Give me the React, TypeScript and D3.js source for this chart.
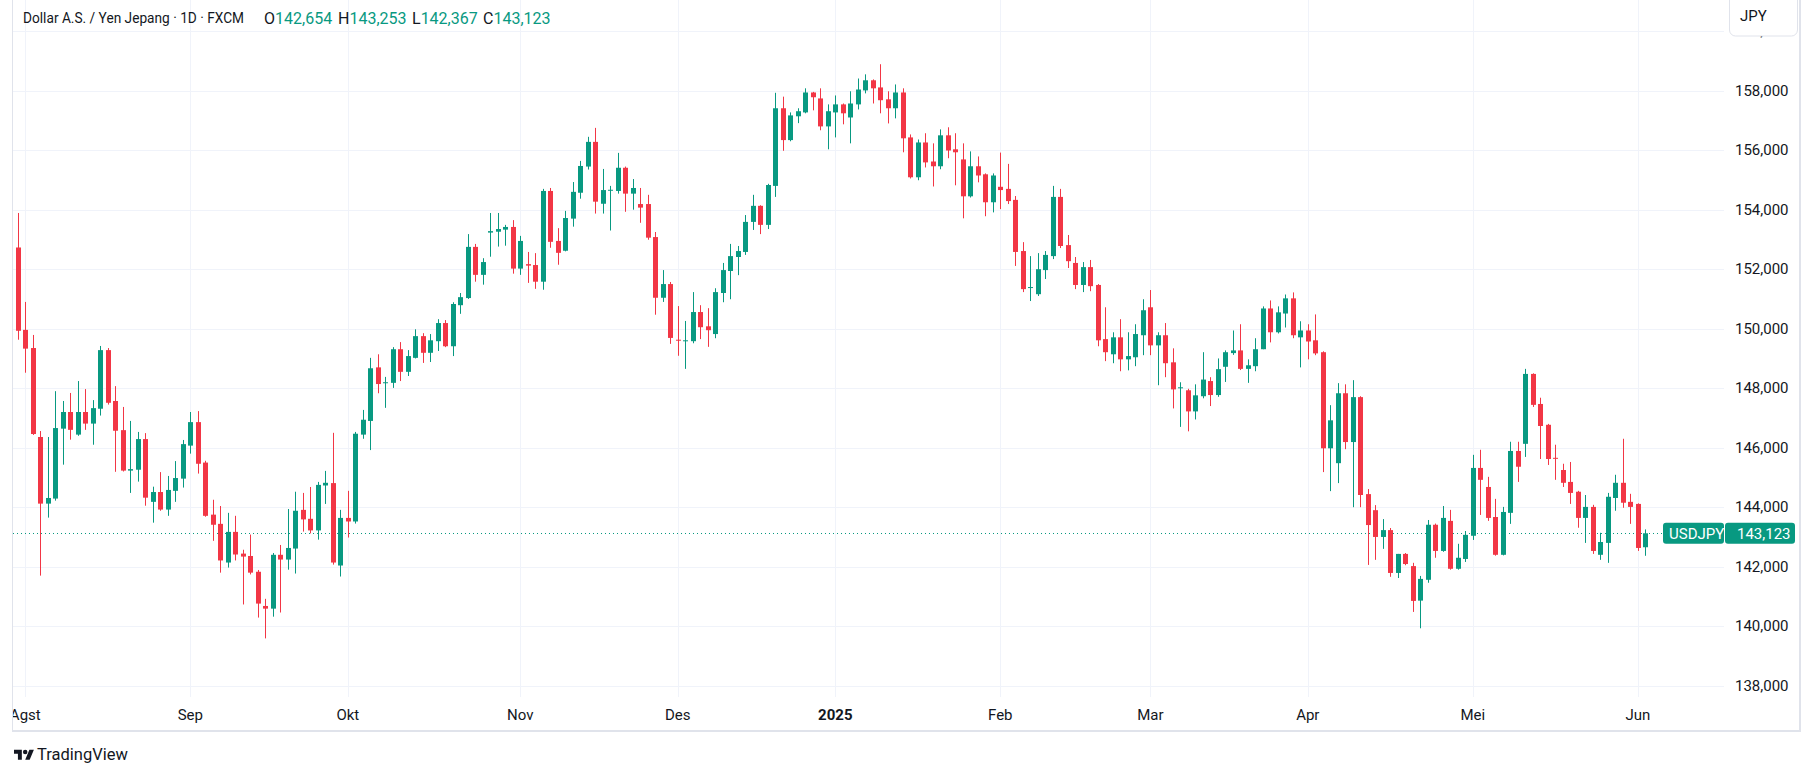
import React from "react"
import * as d3 from "d3"

const WIDTH = 1813
const HEIGHT = 776
const PANE = { left: 13, top: 0, right: 1724, bottom: 697 }
const AXIS_RIGHT = 1800
const FRAME_BOTTOM = 731
const FONT = "Roboto, 'Noto Sans', sans-serif"

const GREEN = "#089981"
const RED = "#f23645"
const TEXT = "#131722"
const GRID = "#f0f3fa"
const BORDER = "#e0e3eb"

// daily candles, 31 Jul 2024 .. 3 Jun 2025 (FXCM)
const opens = [
    152.73, 149.96, 149.35, 146.36, 144.12, 144.29, 146.64, 147.2, 146.44, 147.2,
    146.81, 147.31, 149.28, 147.57, 146.59, 145.23, 145.26, 146.29, 144.18, 144.51,
    143.92, 144.55, 144.96, 146.07, 146.86, 145.5, 143.75, 143.44, 142.14, 143.17,
    142.44, 142.36, 141.83, 140.68, 140.59, 142.4, 142.24, 142.61, 143.91, 143.61,
    143.22, 144.73, 144.81, 142.04, 143.64, 143.52, 146.44, 146.9, 148.7, 148.18,
    148.18, 149.31, 148.55, 149.02, 149.75, 149.19, 149.58, 150.19, 149.41, 150.79,
    151.03, 152.75, 151.81, 153.23, 153.26, 153.33, 153.42, 152.02, 152.17, 152.14,
    151.58, 154.63, 152.95, 152.62, 153.7, 154.57, 155.45, 156.28, 154.2, 154.65,
    154.63, 155.41, 154.54, 154.19, 154.19, 153.08, 151.04, 151.5, 149.63, 149.59,
    149.58, 150.56, 150.08, 149.82, 151.2, 151.94, 152.41, 152.58, 153.59, 154.13,
    153.49, 154.8, 157.41, 156.34, 157.14, 157.27, 157.94, 157.74, 156.8, 157.27,
    157.54, 157.1, 157.54, 158.01, 158.35, 158.11, 157.71, 157.41, 157.94, 156.43,
    155.09, 156.26, 155.62, 155.46, 156.5, 156.03, 155.69, 154.45, 155.46, 155.19,
    154.25, 154.77, 154.7, 154.33, 152.61, 151.37, 151.16, 151.97, 152.44, 154.43,
    152.81, 152.21, 151.47, 152.07, 151.47, 149.65, 149.14, 149.71, 148.97, 149.04,
    149.78, 150.72, 149.44, 149.78, 148.87, 148.0, 147.93, 147.22, 147.73, 148.24,
    147.77, 148.72, 149.18, 149.27, 148.65, 148.74, 149.31, 150.68, 149.88, 150.51,
    151.02, 149.71, 149.94, 149.61, 149.21, 145.98, 145.48, 147.83, 146.19, 147.7,
    144.44, 143.9, 143.0, 143.23, 141.79, 142.43, 142.02, 140.86, 141.56, 143.41,
    142.53, 143.54, 141.93, 142.26, 143.04, 145.32, 144.68, 143.67, 142.4, 143.81,
    145.89, 146.13, 148.48, 147.47, 146.77, 145.66, 145.25, 144.85, 144.52, 143.64,
    144.01, 142.4, 142.8, 144.31, 144.82, 144.18, 144.11, 142.654,
]

const highs = [
    153.89, 150.9, 149.79, 146.56, 146.36, 147.9, 147.57, 147.84, 148.24, 147.97,
    147.6, 149.42, 149.35, 148.07, 147.37, 146.9, 146.53, 146.49, 144.69, 145.18,
    145.05, 145.55, 146.26, 147.2, 147.23, 145.56, 144.25, 144.04, 143.81, 143.71,
    142.57, 143.08, 141.89, 140.92, 142.46, 142.73, 143.94, 144.52, 144.48, 144.68,
    144.85, 145.22, 146.5, 143.91, 144.55, 146.53, 147.27, 149.02, 149.14, 148.38,
    149.38, 149.55, 149.28, 149.98, 149.85, 149.82, 150.32, 150.29, 150.89, 151.2,
    153.18, 152.85, 152.37, 153.89, 153.89, 153.49, 153.65, 153.12, 152.58, 152.54,
    154.7, 154.73, 153.38, 153.96, 154.93, 155.64, 156.45, 156.75, 155.37, 154.8,
    155.91, 155.45, 155.03, 154.73, 154.5, 153.25, 151.97, 151.57, 150.76, 150.26,
    151.23, 150.79, 150.69, 151.36, 152.21, 152.85, 152.78, 153.82, 154.5, 154.15,
    154.87, 157.93, 157.8, 157.27, 157.41, 158.08, 157.96, 158.08, 157.54, 157.84,
    157.57, 157.98, 158.41, 158.55, 158.38, 158.89, 157.98, 158.21, 158.08, 156.53,
    156.36, 156.57, 156.23, 156.7, 156.77, 156.57, 156.23, 155.96, 155.79, 155.22,
    155.22, 155.92, 155.54, 154.46, 152.91, 152.44, 152.54, 152.61, 154.8, 154.7,
    153.15, 152.41, 152.24, 152.31, 151.5, 150.72, 149.88, 150.32, 149.88, 150.15,
    150.99, 151.3, 149.88, 150.19, 149.34, 148.2, 147.98, 148.13, 149.21, 148.37,
    149.0, 149.27, 149.94, 150.15, 148.97, 149.68, 150.75, 150.95, 150.75, 151.15,
    151.22, 150.25, 150.15, 150.48, 149.24, 147.43, 148.17, 148.13, 148.27, 147.73,
    144.61, 144.07, 143.6, 143.3, 142.43, 142.46, 142.13, 141.69, 143.57, 143.45,
    144.04, 143.91, 142.77, 143.2, 145.76, 145.93, 145.02, 144.28, 144.01, 146.2,
    146.2, 148.65, 148.5, 147.68, 146.8, 146.1, 145.46, 145.52, 144.55, 144.41,
    144.08, 143.14, 144.48, 145.09, 146.3, 144.45, 144.13, 143.253,
]

const lows = [
    149.63, 148.52, 146.43, 141.7, 143.65, 144.22, 145.43, 146.27, 146.4, 146.6,
    146.1, 147.08, 147.45, 145.19, 145.2, 144.48, 144.86, 144.05, 143.48, 143.88,
    143.71, 144.18, 144.66, 145.8, 145.13, 143.68, 142.87, 141.8, 141.97, 142.21,
    140.73, 141.74, 140.29, 139.59, 140.32, 140.46, 141.9, 141.77, 143.18, 143.12,
    142.91, 144.11, 142.07, 141.67, 142.98, 143.45, 146.3, 145.92, 147.83, 147.34,
    148.01, 148.24, 148.41, 149.0, 148.85, 148.88, 149.25, 149.38, 149.08, 150.5,
    151.0, 151.58, 151.48, 152.42, 152.76, 152.79, 151.85, 151.81, 151.54, 151.34,
    151.31, 152.72, 152.15, 152.6, 153.43, 154.37, 155.35, 153.87, 153.87, 153.3,
    154.54, 153.93, 154.0, 153.56, 152.99, 150.47, 150.9, 149.49, 149.09, 148.65,
    149.51, 149.65, 149.39, 149.68, 150.89, 150.99, 151.8, 152.48, 153.32, 153.18,
    153.35, 154.43, 155.98, 156.3, 156.91, 157.24, 157.34, 156.67, 156.03, 156.43,
    156.87, 156.23, 157.37, 157.91, 157.57, 157.24, 156.9, 157.07, 155.93, 155.05,
    154.99, 155.42, 154.78, 155.36, 155.73, 154.82, 153.71, 154.41, 154.92, 153.78,
    153.91, 154.02, 154.19, 152.11, 151.23, 150.93, 151.1, 151.67, 152.34, 152.71,
    152.04, 151.33, 151.23, 151.26, 149.41, 148.91, 148.84, 148.57, 148.6, 148.74,
    149.11, 149.11, 148.1, 148.37, 147.32, 146.7, 146.55, 146.95, 147.66, 147.4,
    147.71, 148.21, 149.12, 148.61, 148.18, 148.57, 149.31, 149.54, 149.84, 150.04,
    149.68, 148.7, 148.97, 149.11, 145.18, 144.54, 144.81, 145.95, 144.0, 144.0,
    142.06, 142.23, 142.6, 141.66, 141.62, 142.05, 140.48, 139.93, 141.46, 142.3,
    142.5, 141.9, 141.9, 142.16, 142.9, 143.74, 143.54, 142.37, 142.38, 143.44,
    144.85, 145.69, 147.37, 145.62, 145.42, 144.92, 144.68, 144.11, 143.31, 142.8,
    142.43, 142.23, 142.13, 143.88, 143.98, 143.44, 142.53, 142.367,
]

const closes = [
    149.93, 149.33, 146.46, 144.12, 144.31, 146.66, 147.2, 146.6, 147.2, 146.81,
    147.33, 149.28, 147.51, 146.57, 145.23, 145.28, 146.29, 144.32, 144.51, 143.92,
    144.58, 144.98, 146.12, 146.86, 145.46, 143.71, 143.41, 142.21, 143.17, 142.41,
    142.34, 141.8, 140.76, 140.59, 142.4, 142.24, 142.63, 143.88, 143.59, 143.22,
    144.75, 144.82, 142.14, 143.64, 143.52, 146.47, 146.94, 148.67, 148.14, 148.2,
    149.31, 148.55, 149.08, 149.75, 149.19, 149.61, 150.19, 149.41, 150.83, 151.06,
    152.75, 151.81, 152.24, 153.28, 153.35, 153.42, 152.02, 152.95, 152.12, 151.58,
    154.63, 152.92, 152.55, 153.72, 154.6, 155.47, 156.28, 154.27, 154.66, 154.67,
    155.41, 154.54, 154.73, 154.07, 153.06, 151.04, 151.5, 149.69, 149.61, 149.61,
    150.56, 150.05, 149.95, 151.23, 151.97, 152.44, 152.61, 153.59, 154.13, 153.49,
    154.83, 157.41, 156.34, 157.17, 157.31, 157.94, 157.78, 156.8, 157.31, 157.54,
    157.24, 157.57, 158.04, 158.35, 158.08, 157.68, 157.41, 157.94, 156.4, 155.09,
    156.26, 155.59, 155.46, 156.5, 155.99, 155.93, 154.45, 155.46, 155.15, 154.25,
    155.15, 154.66, 154.29, 152.58, 151.33, 151.4, 152.0, 152.48, 154.43, 152.78,
    152.27, 151.47, 152.07, 151.43, 149.61, 149.21, 149.71, 148.97, 149.08, 149.82,
    150.62, 149.44, 149.78, 148.84, 147.96, 148.03, 147.22, 147.76, 148.29, 147.77,
    148.64, 149.21, 149.27, 148.65, 148.77, 149.31, 150.68, 149.88, 150.55, 151.02,
    149.78, 149.94, 149.57, 149.17, 145.98, 146.92, 147.83, 146.19, 147.7, 144.41,
    143.4, 143.0, 143.23, 141.79, 142.43, 142.09, 140.85, 141.59, 143.41, 142.53,
    143.64, 141.93, 142.3, 143.07, 145.32, 144.92, 143.64, 142.4, 143.84, 145.89,
    145.36, 148.48, 147.44, 146.73, 145.62, 145.64, 144.82, 144.48, 143.64, 144.01,
    142.53, 142.83, 144.35, 144.82, 144.15, 144.01, 142.63, 143.123,
]

const firstDay = "2024-07-31"
const holidays = ["2024-12-25", "2025-01-01"]
const monthNames = ["Jan", "Feb", "Mar", "Apr", "Mei", "Jun", "Jul", "Agst", "Sep", "Okt", "Nov", "Des"]
const priceTicks = d3.range(138, 161, 2)

const symbolTitle = "Dollar A.S. / Yen Jepang · 1D · FXCM"
const symbolCode = "USDJPY"
const currency = "JPY"

// weekdays from the first bar, without the days the feed has no candle
const tradingDays: Date[] = []
{
    let t = Date.parse(firstDay + "T00:00:00Z")
    while (tradingDays.length < closes.length) {
        const d = new Date(t)
        const wd = d.getUTCDay()
        if (wd !== 0 && wd !== 6 && !holidays.includes(d.toISOString().slice(0, 10))) tradingDays.push(d)
        t += 86400000
    }
}

const monthTicks = tradingDays
    .map((d, i) => ({ d, i }))
    .filter(({ d, i }) => i > 0 && d.getUTCMonth() !== tradingDays[i - 1].getUTCMonth())
    .map(({ d, i }) => ({
        i,
        label: d.getUTCMonth() === 0 ? String(d.getUTCFullYear()) : monthNames[d.getUTCMonth()],
        bold: d.getUTCMonth() === 0,
    }))

const locale = d3.formatLocale({ decimal: ",", thousands: ".", grouping: [3], currency: ["", ""] })
const fmt = locale.format(".3f")

const App: React.FC = () => {
    const n = closes.length
    const x = d3.scaleLinear().domain([0, n - 1]).range([17.8, 17.8 + 7.5 * (n - 1)])
    const y = d3.scaleLinear().domain([138, 160]).range([685.7, 31.2])
    const bodyW = 5

    const last = n - 1
    const lastY = y(closes[last])
    const lastUp = closes[last] >= opens[last]

    const ohlc = [
        ["O", opens[last]],
        ["H", highs[last]],
        ["L", lows[last]],
        ["C", closes[last]],
    ] as const
    const ohlcX = [264, 338, 412, 483]

    return (
        <div style={{ position: "absolute", left: 0, top: 0 }}>
            <svg width={WIDTH} height={HEIGHT} style={{ display: "block", background: "#fff" }} fontFamily={FONT}>
                <defs>
                    <clipPath id="pane">
                        <rect x={PANE.left} y={PANE.top} width={PANE.right - PANE.left} height={PANE.bottom - PANE.top} />
                    </clipPath>
                </defs>

                {/* grid */}
                <g clipPath="url(#pane)">
                    {priceTicks.map(v => (
                        <line key={v} x1={PANE.left} x2={PANE.right} y1={Math.round(y(v)) + 0.5} y2={Math.round(y(v)) + 0.5} stroke={GRID} />
                    ))}
                    {monthTicks.map(t => (
                        <line key={t.i} x1={Math.round(x(t.i)) + 0.5} x2={Math.round(x(t.i)) + 0.5} y1={PANE.top} y2={PANE.bottom} stroke={GRID} />
                    ))}
                </g>

                {/* last price line */}
                <line x1={PANE.left} x2={1663} y1={Math.round(lastY) + 0.5} y2={Math.round(lastY) + 0.5}
                    stroke={lastUp ? GREEN : RED} strokeDasharray="1 3" />

                {/* candles */}
                <g clipPath="url(#pane)">
                    {closes.map((c, i) => {
                        const o = opens[i]
                        const up = c >= o
                        const col = up ? GREEN : RED
                        const cx = Math.round(x(i))
                        const top = y(Math.max(o, c))
                        const h = Math.max(1, Math.abs(y(o) - y(c)))
                        return (
                            <g key={i}>
                                <line x1={cx + 0.5} x2={cx + 0.5} y1={y(highs[i])} y2={y(lows[i])} stroke={col} />
                                <rect x={cx + 0.5 - bodyW / 2} y={top} width={bodyW} height={h} fill={col} />
                            </g>
                        )
                    })}
                </g>

                {/* price scale */}
                {priceTicks.map(v => (
                    <text key={v} x={1735} y={y(v)} dy="0.35em" fontSize={15} fill={TEXT}>
                        {fmt(v)}
                    </text>
                ))}

                {/* time scale */}
                {monthTicks.map(t => (
                    <text key={t.i} x={x(t.i)} y={715} dy="0.35em" textAnchor="middle" fontSize={15}
                        fontWeight={t.bold ? 700 : 400} fill={TEXT}>
                        {t.label}
                    </text>
                ))}
                <rect x={0} y={700} width={PANE.left - 0.5} height={28} fill="#fff" />

                {/* frame */}
                <line x1={PANE.left - 0.5} x2={PANE.left - 0.5} y1={0} y2={FRAME_BOTTOM} stroke={BORDER} />
                <line x1={AXIS_RIGHT} x2={AXIS_RIGHT} y1={0} y2={FRAME_BOTTOM} stroke={BORDER} strokeWidth={2} />
                <line x1={PANE.left - 1} x2={AXIS_RIGHT + 1} y1={FRAME_BOTTOM} y2={FRAME_BOTTOM} stroke={BORDER} strokeWidth={2} />

                {/* currency button */}
                <rect x={1729.5} y={-6} width={68} height={42} rx={6} fill="#fff" stroke={BORDER} />
                <text x={1740} y={16} dy="0.35em" fontSize={15} fill={TEXT}>{currency}</text>

                {/* last price badge */}
                <rect x={1663} y={lastY - 10.5} width={61} height={21} rx={3} fill={lastUp ? GREEN : RED} />
                <rect x={1725} y={lastY - 10.5} width={70} height={21} rx={3} fill={lastUp ? GREEN : RED} />
                <text x={1669} y={lastY} dy="0.35em" fontSize={15} fill="#fff">{symbolCode}</text>
                <text x={1737} y={lastY} dy="0.35em" fontSize={15} fill="#fff">{fmt(closes[last])}</text>

                {/* legend */}
                <text x={23} y={18} dy="0.35em" fontSize={14.5} fill={TEXT} textLength={221} lengthAdjust="spacingAndGlyphs">
                    {symbolTitle}
                </text>
                {ohlc.map(([k, v], j) => (
                    <text key={k} x={ohlcX[j]} y={18} dy="0.35em" fontSize={16} fill={TEXT}>
                        {k}
                        <tspan fill={lastUp ? GREEN : RED}>{fmt(v)}</tspan>
                    </text>
                ))}

                {/* TradingView mark */}
                <g transform="translate(14,747.5) scale(0.56)" fill={TEXT}>
                    <path d="M14 22H7V11H0V4h14v18zM28 22h-8l7.5-18h8L28 22z" />
                    <circle cx={20} cy={8} r={4} />
                </g>
                <text x={37} y={754} dy="0.35em" fontSize={16.5} fill={TEXT}>TradingView</text>
            </svg>
        </div>
    )
}

export default App
